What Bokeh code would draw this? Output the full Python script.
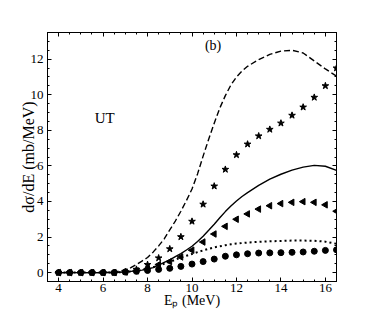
import numpy as np
from bokeh.plotting import figure
from bokeh.models import LinearAxis, Range1d, Label, FixedTicker, CustomJSTickFormatter
from bokeh.embed import file_html
from bokeh.resources import INLINE

# marker series (energies in MeV)
marker_x = [4, 4.5, 5, 5.5, 6, 6.5, 7, 7.5, 8, 8.5, 9, 9.5, 10, 10.5, 11, 11.5,
            12, 12.5, 13, 13.5, 14, 14.5, 15, 15.5, 16, 16.5]
circles = [0, 0, 0, 0, 0, 0, 0.03, 0.07, 0.12, 0.18, 0.24, 0.35, 0.48, 0.62, 0.76, 0.92,
           1.0, 1.06, 1.1, 1.11, 1.12, 1.14, 1.16, 1.2, 1.25, 1.28]
stars = [0, 0, 0, 0, 0, 0, 0.05, 0.18, 0.45, 0.82, 1.33, 2.01, 2.88, 3.84, 4.86, 5.8,
         6.62, 7.22, 7.68, 8.05, 8.4, 8.84, 9.3, 9.85, 10.5, 11.5]
triangles = [0, 0, 0, 0, 0, 0, 0.03, 0.1, 0.22, 0.45, 0.62, 0.88, 1.26, 1.72, 2.17, 2.6,
             3.0, 3.3, 3.57, 3.76, 3.88, 3.95, 3.99, 3.95, 3.81, 3.45]

# curves
curve_x = [4, 5, 6, 6.5, 7, 7.25, 7.5, 7.75, 8, 8.25, 8.5, 8.75, 9, 9.25, 9.5, 9.75,
           10, 10.25, 10.5, 10.75, 11, 11.25, 11.5, 11.75, 12, 12.25, 12.5, 13, 13.5, 14,
           14.5, 15, 15.5, 16, 16.5]
dashed = [0, 0, 0, 0.03, 0.15, 0.28, 0.45, 0.65, 0.85, 1.15, 1.5, 1.9, 2.4, 2.9, 3.45, 4.05,
          4.7, 5.55, 6.55, 7.5, 8.4, 9.25, 9.95, 10.55, 11.0, 11.33, 11.6, 11.98, 12.27, 12.45,
          12.5, 12.35, 11.9, 11.45, 11.05]
solid = [0, 0, 0, 0.01, 0.04, 0.07, 0.1, 0.14, 0.2, 0.28, 0.42, 0.57, 0.72, 0.9, 1.07, 1.27,
         1.48, 1.75, 2.05, 2.38, 2.72, 3.08, 3.43, 3.75, 4.03, 4.28, 4.5, 4.9, 5.25, 5.53,
         5.76, 5.93, 6.03, 5.98, 5.75]
dotted = [0, 0, 0, 0.01, 0.03, 0.06, 0.1, 0.15, 0.22, 0.3, 0.4, 0.5, 0.6, 0.72, 0.85, 0.95,
          1.05, 1.15, 1.25, 1.34, 1.42, 1.48, 1.54, 1.59, 1.63, 1.66, 1.69, 1.73, 1.76, 1.78,
          1.8, 1.8, 1.79, 1.74, 1.62]

x_major = [4, 6, 8, 10, 12, 14, 16]
y_major = [0, 2, 4, 6, 8, 10, 12]

FONT = "serif"

p = figure(width=366, height=312, x_range=Range1d(3.5, 16.5), y_range=Range1d(-0.5, 13.5),
           output_backend="svg", toolbar_location=None,
           min_border_left=47, min_border_right=30, min_border_top=32, min_border_bottom=31)
p.background_fill_color = "white"
p.border_fill_color = "white"
p.grid.visible = False
p.outline_line_color = "black"
p.outline_line_width = 1

xminor = list(np.arange(3.5, 16.51, 0.5))
yminor = list(np.arange(-0.5, 13.51, 0.5))

p.xaxis[0].ticker = FixedTicker(ticks=x_major, minor_ticks=xminor)
p.yaxis[0].ticker = FixedTicker(ticks=y_major, minor_ticks=yminor)

for ax in [p.xaxis[0], p.yaxis[0]]:
    ax.major_tick_in = 4
    ax.major_tick_out = 0
    ax.minor_tick_in = 2
    ax.minor_tick_out = 0
    ax.major_label_text_font = FONT
    ax.major_label_text_font_size = "13px"
    ax.major_label_text_color = "black"
    ax.axis_label_text_font = FONT
    ax.axis_label_text_font_style = "normal"
    ax.axis_label_text_color = "black"
    ax.axis_line_color = "black"

p.xaxis.axis_label = "Eₚ (MeV)"
p.xaxis.axis_label_text_font_size = "14px"
p.xaxis.major_label_standoff = 2
p.xaxis.axis_label_standoff = -2

p.yaxis.axis_label = "dσ/dE (mb/MeV)"
p.yaxis.axis_label_text_font_size = "16px"
p.yaxis.major_label_standoff = 4
p.yaxis.axis_label_standoff = -9

# mirrored axes (ticks only)
for loc in ["right", "above"]:
    ax = LinearAxis(formatter=CustomJSTickFormatter(code="return ''"))
    if loc == "right":
        ax.ticker = FixedTicker(ticks=y_major, minor_ticks=yminor)
    else:
        ax.ticker = FixedTicker(ticks=x_major, minor_ticks=xminor)
    ax.major_tick_in = 4
    ax.major_tick_out = 0
    ax.minor_tick_in = 2
    ax.minor_tick_out = 0
    ax.major_label_standoff = 0
    ax.axis_line_color = "black"
    p.add_layout(ax, loc)

# curves
p.line(curve_x, dashed, line_color="black", line_width=1.4, line_dash="6 3")
p.line(curve_x, solid, line_color="black", line_width=1.4)
p.line(curve_x, dotted, line_color="black", line_width=2, line_dash="2 3")

# markers
p.scatter(marker_x, stars, marker="star", size=7, color="black")
p.scatter(marker_x, triangles, marker="triangle", size=6.5, angle=np.pi / 2, color="black")
p.scatter(marker_x, circles, marker="circle", size=6, color="black")

p.add_layout(Label(x=10.95, y=12.75, text="(b)", text_font=FONT, text_font_size="14px",
                   text_align="center", text_baseline="middle", text_color="black"))
p.add_layout(Label(x=6.07, y=8.72, text="UT", text_font=FONT, text_font_size="15px",
                   text_align="center", text_baseline="middle", text_color="black"))

open("out.html", "w").write(file_html(p, INLINE))
